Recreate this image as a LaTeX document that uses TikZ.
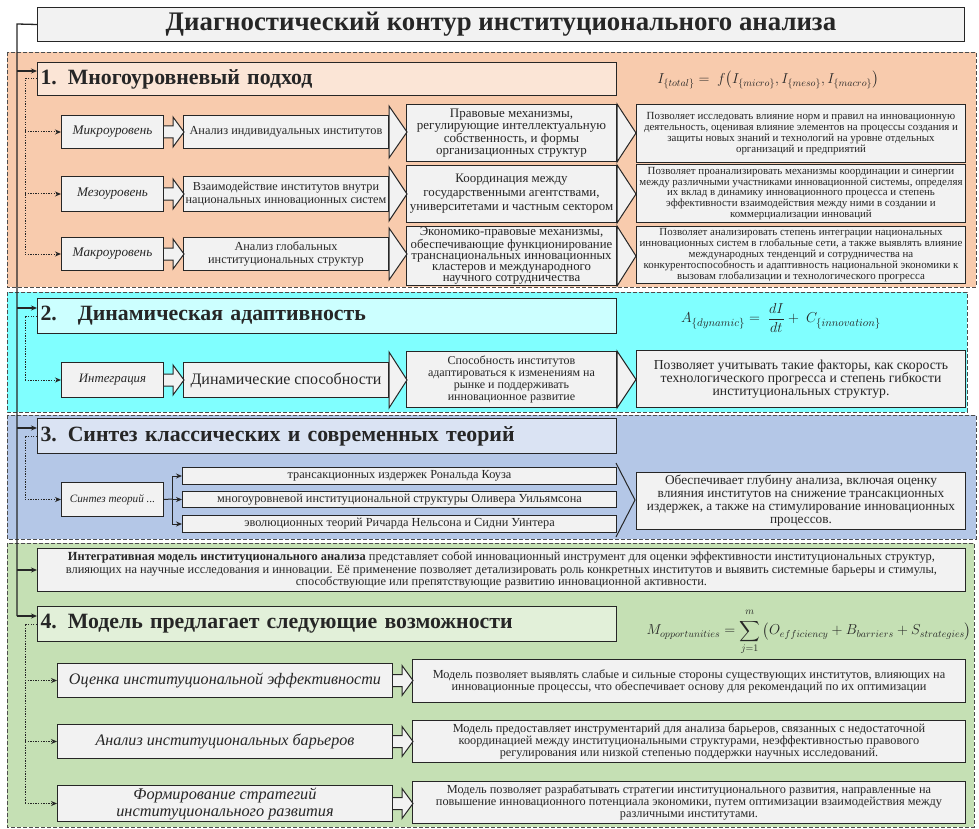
\documentclass[tikz,border=0pt]{standalone}
\usepackage{amsmath}
\usepackage{fontspec}
\setmainfont{Liberation Serif}
\usetikzlibrary{arrows.meta,calc}
\definecolor{bgA}{HTML}{F8CBAD}
\definecolor{tA}{HTML}{FBE5D6}
\definecolor{bgB}{HTML}{80FFFF}
\definecolor{tB}{HTML}{CCFFFF}
\definecolor{bgC}{HTML}{B4C7E7}
\definecolor{tC}{HTML}{DAE3F3}
\definecolor{bgD}{HTML}{C5E0B4}
\definecolor{tD}{HTML}{E2F0D9}
\definecolor{boxf}{HTML}{F2F2F2}
\definecolor{ink}{HTML}{262626}
\newcommand\bx[7][]{\node[box,anchor=north west,minimum width={(#5-#3)*1pt},minimum height={(#6-#4)*1pt},#1] (#2) at (#3,#4) {#7};}
\newcommand\headx[3]{\filldraw[hd] ($(#1.north east)+(0,-#2)$) -- ($(#1.east)+(#3,0)$) -- ($(#1.south east)+(0,#2)$) -- cycle;}
\newcommand\harr[1]{\filldraw[hd] ($(#1.east)+(0,-6)$) -- ++(9,0) -- ++(0,-9) -- ($(#1.east)+(20,0)$) -- ($(#1.east)+(9,15)$) -- ++(0,-9) -- ($(#1.east)+(0,6)$);}
\begin{document}
\begin{tikzpicture}[x=1pt,y=-1pt,
  box/.style={draw=ink,fill=boxf,line width=1pt,inner sep=1pt,align=center,text=ink},
  hd/.style={draw=ink,fill=boxf,line width=1pt,line join=miter},
  bgr/.style={draw=black!70,dash pattern=on 4pt off 2pt,line width=0.8pt},
  ttl/.style={box,align=left,anchor=north west,inner xsep=3pt,text width=573pt,font=\fontsize{21.8}{24}\selectfont\bfseries},
  trunk/.style={draw=ink,line width=1.3pt},
  sarr/.style={trunk,-{Stealth[length=6pt,width=5pt]}},
  dline/.style={draw=ink,line width=1pt,dash pattern=on 1.3pt off 1.3pt},
  darr/.style={dline,-{Stealth[length=6pt,width=5pt]}},
  barr/.style={draw=ink,line width=1pt,-{Stealth[length=6pt,width=5pt]}},
  fA/.style={font=\fontsize{13.2}{14}\selectfont\itshape},
  fB/.style={font=\fontsize{12.3}{13}\selectfont},
  fD/.style={font=\fontsize{10.9}{10.8}\selectfont},
  fE/.style={font=\fontsize{16.1}{18}\selectfont\itshape},
  fF/.style={font=\fontsize{12.3}{12}\selectfont},
]
\useasboundingbox (0,0) rectangle (979,829);
% backgrounds
\filldraw[bgr,fill=bgA] (7,52) rectangle (976,287);
\filldraw[bgr,fill=bgB] (7,292) rectangle (967,412);
\filldraw[bgr,fill=bgC] (7,415) rectangle (976,539);
\filldraw[bgr,fill=bgD] (7,543) rectangle (974,827);
% title
\bx[font=\fontsize{26.8}{28}\selectfont\bfseries]{title}{37}{7}{964}{41}{Диагностический контур институционального анализа}
% section titles
\node[ttl,fill=tA,minimum height=33pt] (t1) at (37,62) {1. Многоуровневый подход};
\node[ttl,fill=tB,minimum height=35pt] (t2) at (37,298) {2.\hspace{21pt}Динамическая адаптивность};
\node[ttl,fill=tC,minimum height=35pt] (t3) at (37,418) {3. Синтез классических и современных теорий};
\node[ttl,fill=tD,minimum height=35pt] (t4) at (37,606) {4. Модель предлагает следующие возможности};
\bx[font=\fontsize{12.4}{12.5}\selectfont]{integ}{37}{548}{965}{591}{\textbf{Интегративная модель институционального анализа} представляет собой инновационный инструмент для оценки эффективности институциональных структур,\\ влияющих на научные исследования и инновации. Её применение позволяет детализировать роль конкретных институтов и выявить системные барьеры и стимулы,\\ способствующие или препятствующие развитию инновационной активности.}
% formulas
\node[text=ink,font=\fontsize{14.2}{17}\selectfont] (fml1) at (768,80) {$I_{\{total\}} = \ f\big(I_{\{micro\}}, I_{\{meso\}}, I_{\{macro\}}\big)$};
\node[text=ink,font=\fontsize{15}{17}\selectfont] (fml2) at (781,318) {$A_{\{dynamic\}} = \ \dfrac{dI}{dt} + \ C_{\{innovation\}}$};
\node[text=ink,font=\fontsize{14.5}{17}\selectfont] (fml3) at (809,632) {$M_{opportunities} = \displaystyle\sum_{j=1}^{\raisebox{2.5pt}{$\scriptstyle m$}}\big(O_{efficiency} + B_{barriers} + S_{strategies}\big)$};
% ---- section 1
\bx[fA]{m1}{61}{115}{163}{148}{Микроуровень}
\bx[fB]{n1}{183}{115}{388}{148}{Анализ индивидуальных институтов}
\bx[font=\fontsize{13}{12.3}\selectfont]{p1}{406}{104}{616}{161}{Правовые механизмы,\\ регулирующие интеллектуальную\\ собственность, и формы\\ организационных структур}
\bx[fD]{q1}{636}{104}{965}{162}{Позволяет исследовать влияние норм и правил на инновационную\\ деятельность, оценивая влияние элементов на процессы создания и\\ защиты новых знаний и технологий на уровне отдельных\\ организаций и предприятий}
\bx[fA]{m2}{61}{176}{163}{211}{Мезоуровень}
\bx[font=\fontsize{12.2}{12.5}\selectfont]{n2}{183}{176}{388}{211}{Взаимодействие институтов внутри\\ национальных инновационных систем}
\bx[font=\fontsize{12.9}{14}\selectfont]{p2}{406}{165}{616}{222}{Координация между\\ государственными агентствами,\\ университетами и частным сектором}
\bx[fD]{q2}{636}{164}{965}{222}{Позволяет проанализировать механизмы координации и синергии\\ между различными участниками инновационной системы, определяя\\ их вклад в динамику инновационного процесса и степень\\ эффективности взаимодействия между ними в создании и\\ коммерциализации инноваций}
\bx[fA]{m3}{61}{237}{163}{270}{Макроуровень}
\bx[fB]{n3}{183}{237}{388}{270}{Анализ глобальных\\ институциональных структур}
\bx[font=\fontsize{12.8}{11}\selectfont]{p3}{406}{226}{616}{283}{Экономико-правовые механизмы,\\ обеспечивающие функционирование\\ транснациональных инновационных\\ кластеров и международного\\ научного сотрудничества}
\bx[fD]{q3}{636}{226}{965}{283}{Позволяет анализировать степень интеграции национальных\\ инновационных систем в глобальные сети, а также выявлять влияние\\ международных тенденций и сотрудничества на\\ конкурентоспособность и адаптивность национальной экономики к\\ вызовам глобализации и технологического прогресса}
\foreach \r in {1,2,3}{\harr{m\r}\headx{n\r}{9}{18}\headx{p\r}{0}{19}}
% ---- section 2
\bx[font=\fontsize{12.8}{14}\selectfont\itshape]{m4}{61}{362}{163}{397}{Интеграция}
\bx[font=\fontsize{16}{18}\selectfont]{n4}{183}{362}{388}{397}{Динамические способности}
\bx[font=\fontsize{12}{11.8}\selectfont]{p4}{406}{351}{616}{407}{Способность институтов\\ адаптироваться к изменениям на\\ рынке и поддерживать\\ инновационное развитие}
\bx[font=\fontsize{13.7}{12.8}\selectfont]{q4}{636}{350}{965}{407}{Позволяет учитывать такие факторы, как скорость\\ технологического прогресса и степень гибкости\\ институциональных структур.}
\harr{m4}\headx{n4}{10}{18}\headx{p4}{0}{19}
% ---- section 3
\bx[font=\fontsize{11.2}{14}\selectfont\itshape]{s1}{61}{482}{163}{516}{Синтез теорий ...}
\bx[fB]{c1}{182}{467}{616}{484}{трансакционных издержек Рональда Коуза}
\bx[fB]{c2}{182}{491}{616}{507}{многоуровневой институциональной структуры Оливера Уильямсона}
\bx[fB]{c3}{182}{515}{616}{532}{эволюционных теорий Ричарда Нельсона и Сидни Уинтера}
\coordinate (cv1) at (616,463);
\coordinate (cv2) at (635,500);
\coordinate (cv3) at (616,537);
\draw[hd,fill=none] (cv1) -- (cv2) -- (cv3);
\bx[font=\fontsize{13.3}{13}\selectfont]{d4}{636}{472}{965}{529}{Обеспечивает глубину анализа, включая оценку\\ влияния институтов на снижение трансакционных\\ издержек, а также на стимулирование инновационных\\ процессов.}
\coordinate (br) at (172,499);
\draw[draw=ink,line width=1pt] (s1.east) -- (br);
\draw[draw=ink,line width=1pt] (br |- c1.west) -- (br |- c3.west);
\foreach \c in {c1,c2,c3}{\draw[barr] (br |- \c.west) -- (\c.west);}
% ---- section 4
\bx[fE]{e1}{57}{663}{392}{697}{Оценка институциональной эффективности}
\bx[fF]{f1}{412}{659}{965}{702}{Модель позволяет выявлять слабые и сильные стороны существующих институтов, влияющих на\\ инновационные процессы, что обеспечивает основу для рекомендаций по их оптимизации}
\bx[fE]{e2}{57}{724}{392}{758}{Анализ институциональных барьеров}
\bx[fF]{f2}{412}{720}{965}{762}{Модель предоставляет инструментарий для анализа барьеров, связанных с недостаточной\\ координацией между институциональными структурами, неэффективностью правового\\ регулирования или низкой степенью поддержки научных исследований.}
\bx[font=\fontsize{16.3}{17}\selectfont\itshape]{e3}{57}{785}{392}{821}{Формирование стратегий\\ институционального развития}
\bx[fF]{f3}{412}{781}{965}{823}{Модель позволяет разрабатывать стратегии институционального развития, направленные на\\ повышение инновационного потенциала экономики, путем оптимизации взаимодействия между\\ различными институтами.}
\harr{e1}\harr{e2}\harr{e3}
% ---- trunk (solid)
\coordinate (tr) at (17,24);
\coordinate (a1) at ([yshift=8pt]t1.west);
\coordinate (a2) at ([yshift=8pt]t2.west);
\coordinate (a3) at ([yshift=8pt]t3.west);
\coordinate (a4) at ([yshift=8pt]t4.west);
\draw[trunk] (title.west) -- (tr) -- (tr |- a4);
\draw[sarr] (tr |- a1) -- (a1);
\draw[sarr] (tr |- a2) -- (a2);
\draw[sarr] (tr |- a3) -- (a3);
\draw[sarr] (tr |- integ.west) -- (integ.west);
\draw[sarr] (tr |- a4) -- (a4);
% ---- dotted connectors
\coordinate (dx) at (25,0);
\draw[dline] (t1.west) -- (dx |- t1.west) -- (dx |- m3.west);
\foreach \b in {m1,m2,m3}{\draw[darr] (dx |- \b.west) -- (\b.west);}
\draw[dline] (t2.west) -- (dx |- t2.west) -- (dx |- m4.west);
\draw[darr] (dx |- m4.west) -- (m4.west);
\draw[dline] (t3.west) -- (dx |- t3.west) -- (dx |- s1.west);
\draw[darr] (dx |- s1.west) -- (s1.west);
\draw[dline] (t4.west) -- (dx |- t4.west) -- (dx |- e3.west);
\foreach \b in {e1,e2,e3}{\draw[darr] (dx |- \b.west) -- (\b.west);}
\end{tikzpicture}
\end{document}
